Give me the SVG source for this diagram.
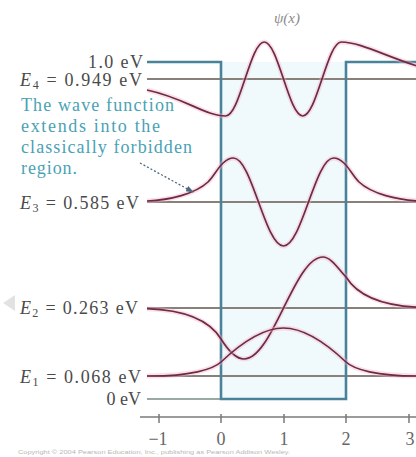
<svg xmlns="http://www.w3.org/2000/svg" width="416" height="457" viewBox="0 0 416 457">
<style>
.lbl{font-family:"Liberation Serif","Times New Roman",serif;font-size:18px;fill:#4a4a4a}
.note{font-family:"Liberation Serif","Times New Roman",serif;font-size:18px;fill:#4aa2b4}
.tick{font-family:"Liberation Serif","Times New Roman",serif;font-size:18px;fill:#666;text-anchor:middle}
.lvl{stroke:#8a807a;stroke-width:2;fill:none}
.halo{fill:none;stroke:#f2b3c4;stroke-width:5;stroke-opacity:0.4;stroke-linejoin:round}
.psi{fill:none;stroke:#6e2a48;stroke-width:1.7;stroke-linejoin:round}
.well{fill:none;stroke:#4a8399;stroke-width:2.6}
</style>
<defs>
<marker id="ah" markerWidth="8" markerHeight="6" refX="7" refY="3" orient="auto" markerUnits="userSpaceOnUse">
<path d="M0,0 L8,3 L0,6 z" fill="#4d6a80"/>
</marker>
</defs>
<rect width="416" height="457" fill="#ffffff"/>
<polygon points="3,303 15,295 15,311" fill="#e2e2e2"/>
<g id="well-interior"><rect x="221" y="62" width="125" height="337" fill="#f0fafc"/></g>

<g id="levels">
<line class="lvl" x1="147" y1="79" x2="416" y2="79"/>
<line class="lvl" x1="147" y1="202" x2="416" y2="202"/>
<line class="lvl" x1="147" y1="308" x2="416" y2="308"/>
<line class="lvl" x1="147" y1="376" x2="416" y2="376"/>
<line x1="147" y1="399" x2="221" y2="399" stroke="#9aa9a4" stroke-width="2"/>
</g>

<g id="well">
<path class="well" d="M147,62 L221,62 L221,399 L346,399 L346,62 L416,62"/>
</g>

<g id="axis">
<line x1="140" y1="417" x2="416" y2="417" stroke="#7a7a7a" stroke-width="1.5"/>
<path d="M159,414 V423 M221,414 V423 M284,414 V423 M346,414 V423 M409,414 V423" stroke="#7a7a7a" stroke-width="1.5"/>
<text class="tick" x="158" y="445">−1</text>
<text class="tick" x="221" y="445">0</text>
<text class="tick" x="284" y="445">1</text>
<text class="tick" x="346" y="445">2</text>
<text class="tick" x="410" y="445">3</text>
</g>

<g id="wavefunctions">
<g id="psi4">
<path class="halo" d="M147,90 C185,98 205,116 225.75,116 C232.7,116 238.7,97.9 245,79 C251.3,60.1 257.3,42 264.25,42 C271.2,42 277.2,60.1 283.5,79 C289.8,97.9 295.8,116 302.75,116 C309.7,116 315.7,97.9 322,79 C328.3,60.1 334.3,42 341.25,42 C360,42 385,56 420,67"/>
<path class="psi" d="M147,90 C185,98 205,116 225.75,116 C232.7,116 238.7,97.9 245,79 C251.3,60.1 257.3,42 264.25,42 C271.2,42 277.2,60.1 283.5,79 C289.8,97.9 295.8,116 302.75,116 C309.7,116 315.7,97.9 322,79 C328.3,60.1 334.3,42 341.25,42 C360,42 385,56 420,67"/>
</g>
<g id="psi3">
<path class="halo" d="M147,201 C170,200 195,194 208,182 C215,175.5 222,158 233.5,158 C242.55,158 250.35,179.5 258.5,202 C266.65,224.5 274.45,246 283.5,246 C292.55,246 300.35,224.5 308.5,202 C316.65,179.5 324.45,158 333.5,158 C345,158 352,175.5 359,182 C372,194 397,200 420,201"/>
<path class="psi" d="M147,201 C170,200 195,194 208,182 C215,175.5 222,158 233.5,158 C242.55,158 250.35,179.5 258.5,202 C266.65,224.5 274.45,246 283.5,246 C292.55,246 300.35,224.5 308.5,202 C316.65,179.5 324.45,158 333.5,158 C345,158 352,175.5 359,182 C372,194 397,200 420,201"/>
</g>
<g id="psi2">
<path class="halo" d="M147,308.7 C185,310 209,319.7 221,339 C228.7,351.3 236.3,359 244,359 C258.3,359 270.6,334.1 283.5,308 C296.4,281.9 308.7,257 323,257 C330.7,257 338.3,268.7 346,277 C358,296.3 382,306 420,307.3"/>
<path class="psi" d="M147,308.7 C185,310 209,319.7 221,339 C228.7,351.3 236.3,359 244,359 C258.3,359 270.6,334.1 283.5,308 C296.4,281.9 308.7,257 323,257 C330.7,257 338.3,268.7 346,277 C358,296.3 382,306 420,307.3"/>
</g>
<g id="psi1">
<path class="halo" d="M147,376 L150,376 C190,376 213,369.5 221,362 C241.8,342.4 262.7,328 283.5,328 C304.3,328 325.2,342.4 346,362 C354,369.5 377,376 417,376 L420,376"/>
<path class="psi" d="M147,376 L150,376 C190,376 213,369.5 221,362 C241.8,342.4 262.7,328 283.5,328 C304.3,328 325.2,342.4 346,362 C354,369.5 377,376 417,376 L420,376"/>
</g>
</g>

<g id="labels">
<text x="287" y="23" font-family="Liberation Serif, serif" font-size="15" font-style="italic" fill="#8a8a8a" text-anchor="middle">ψ(x)</text>
<text class="lbl" x="143" y="68" text-anchor="end" textLength="55" lengthAdjust="spacing">1.0 eV</text>
<text class="lbl" x="142" y="86" text-anchor="end" textLength="122" lengthAdjust="spacing"><tspan font-style="italic">E</tspan><tspan font-size="12" dy="3">4</tspan><tspan dy="-3"> = 0.949 eV</tspan></text>
<text class="lbl" x="139" y="209" text-anchor="end" textLength="119" lengthAdjust="spacing"><tspan font-style="italic">E</tspan><tspan font-size="12" dy="3">3</tspan><tspan dy="-3"> = 0.585 eV</tspan></text>
<text class="lbl" x="138" y="314" text-anchor="end" textLength="118" lengthAdjust="spacing"><tspan font-style="italic">E</tspan><tspan font-size="12" dy="3">2</tspan><tspan dy="-3"> = 0.263 eV</tspan></text>
<text class="lbl" x="141" y="383" text-anchor="end" textLength="121" lengthAdjust="spacing"><tspan font-style="italic">E</tspan><tspan font-size="12" dy="3">1</tspan><tspan dy="-3"> = 0.068 eV</tspan></text>
<text class="lbl" x="141" y="405" text-anchor="end">0 eV</text>
</g>

<g id="note">
<text class="note" x="21" y="111" textLength="153" lengthAdjust="spacing">The wave function</text>
<text class="note" x="21" y="132" textLength="139" lengthAdjust="spacing">extends into the</text>
<text class="note" x="21" y="153" textLength="171" lengthAdjust="spacing">classically forbidden</text>
<text class="note" x="21" y="174" textLength="56" lengthAdjust="spacing">region.</text>
</g>

<g id="connectors">
<line x1="140" y1="163" x2="193" y2="192" stroke="#4d6a80" stroke-width="1.3" stroke-dasharray="2 2" marker-end="url(#ah)"/>
</g>

<text x="18" y="454" font-family="Liberation Sans, sans-serif" font-size="6" fill="#b8b8b8" textLength="272" lengthAdjust="spacingAndGlyphs">Copyright © 2004 Pearson Education, Inc., publishing as Pearson Addison Wesley.</text>
</svg>
